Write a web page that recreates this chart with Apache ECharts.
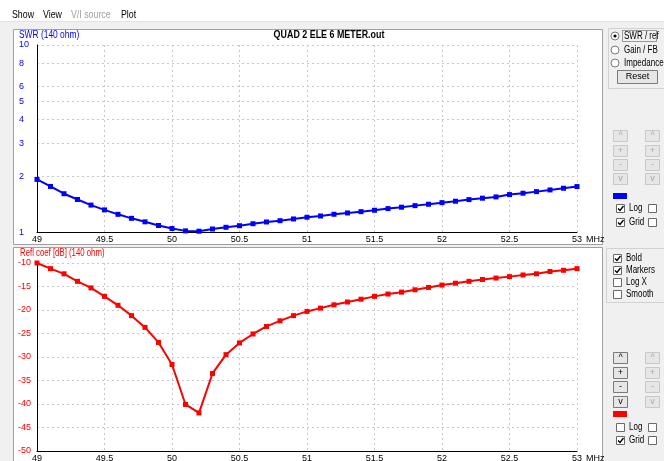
<!DOCTYPE html>
<html>
<head>
<meta charset="utf-8">
<title>QUAD 2 ELE 6 METER.out</title>
<script src="https://cdn.jsdelivr.net/npm/echarts@6/dist/echarts.min.js"></script>
<style>
  html, body { margin: 0; padding: 0; background: #f0f0f0; }
  #c { width: 664px; height: 461px; }
</style>
</head>
<body>
<div id="c"></div>
<script>
// Frequency sweep (MHz)
const freqMHz = [
  49.0, 49.1, 49.2, 49.3, 49.4, 49.5, 49.6, 49.7, 49.8, 49.9,
  50.0, 50.1, 50.2, 50.3, 50.4, 50.5, 50.6, 50.7, 50.8, 50.9,
  51.0, 51.1, 51.2, 51.3, 51.4, 51.5, 51.6, 51.7, 51.8, 51.9,
  52.0, 52.1, 52.2, 52.3, 52.4, 52.5, 52.6, 52.7, 52.8, 52.9,
  53.0
];

// SWR referenced to 140 ohm
const swr = [
  1.92, 1.76, 1.61, 1.50, 1.40, 1.32, 1.25, 1.19, 1.14, 1.09,
  1.05, 1.020, 1.016, 1.044, 1.066, 1.087, 1.114, 1.138, 1.156, 1.181,
  1.206, 1.225, 1.251, 1.271, 1.292, 1.314, 1.341, 1.364, 1.391, 1.415,
  1.443, 1.468, 1.498, 1.524, 1.548, 1.593, 1.620, 1.652, 1.687, 1.722,
  1.758
];

// Reflection coefficient, dB (140 ohm)
const reflDb = [
  -10.0, -11.2, -12.3, -13.9, -15.3, -17.1, -19.0, -21.2, -23.7, -26.9,
  -31.6, -40.1, -41.9, -33.5, -29.5, -27.0, -25.1, -23.5, -22.3, -21.2,
  -20.3, -19.6, -18.9, -18.3, -17.7, -17.1, -16.6, -16.2, -15.7, -15.2,
  -14.7, -14.3, -13.9, -13.5, -13.2, -12.9, -12.55, -12.3, -11.8, -11.55,
  -11.2
];

// Axis ticks
const freqTicks = [49, 49.5, 50, 50.5, 51, 51.5, 52, 52.5, 53];
const swrTicks = [1, 2, 3, 4, 5, 6, 8, 10];
const reflTicks = [-50, -45, -40, -35, -30, -25, -20, -15, -10];

const FONT = "'Liberation Sans', Arial, sans-serif";
const SQUEEZE = 0.8;   // the dialog font is narrow; compress text horizontally
const GRID_LINE = { show: true, lineStyle: { color: '#c8c8c8', type: [2, 3], width: 1 } };

function xAxisFor(gridIndex) {
  return {
    type: 'value', gridIndex,
    min: freqTicks[0], max: freqTicks[freqTicks.length - 1], interval: 0.5,
    axisLine: { show: true, onZero: false, lineStyle: { color: '#000', width: 1 } },
    axisTick: { show: false },
    axisLabel: { color: '#000', fontFamily: FONT, fontSize: 9, margin: 3, showMinLabel: true, showMaxLabel: true },
    splitLine: GRID_LINE,
    name: 'MHz', nameLocation: 'end', nameGap: 7,
    nameTextStyle: { color: '#000', fontFamily: FONT, fontSize: 9, align: 'left', verticalAlign: 'top', padding: [3, 0, 0, 0] }
  };
}

// Plain text in the dialog font
function label(x, y, text, fill, opts) {
  opts = opts || {};
  return {
    type: 'text', x, y, scaleX: opts.scaleX || SQUEEZE,
    style: {
      text, fill,
      font: (opts.bold ? 'bold ' : '') + (opts.size || 10) + 'px ' + FONT,
      align: opts.align || 'left', verticalAlign: 'middle'
    }
  };
}

// Windows-style control helpers for the side panel
function button(x, y, w, h, text, enabled) {
  return [
    { type: 'rect', shape: { x, y, width: w, height: h }, style: { fill: '#e6e6e6', stroke: enabled ? '#7a7a7a' : '#c8c8c8', lineWidth: 1 } },
    label(x + w / 2, y + h / 2, text, enabled ? '#000' : '#a8a8a8', { align: 'center', size: 9, scaleX: 1 })
  ];
}
function checkbox(x, y, checked, text) {
  const els = [
    { type: 'rect', shape: { x: x + 0.5, y: y + 0.5, width: 8, height: 8 }, style: { fill: '#fff', stroke: '#6a6a6a', lineWidth: 1 } }
  ];
  if (checked) {
    els.push({ type: 'polyline', shape: { points: [[x + 2, y + 4.5], [x + 4, y + 6.5], [x + 7.5, y + 2]] }, style: { stroke: '#000', lineWidth: 1.4, fill: null } });
  }
  if (text) els.push(label(x + 13, y + 4.5, text, '#000'));
  return els;
}
function radio(x, y, selected, text) {
  const els = [
    { type: 'circle', shape: { cx: x, cy: y, r: 4 }, style: { fill: '#fff', stroke: '#7a7a7a', lineWidth: 1 } }
  ];
  if (selected) els.push({ type: 'circle', shape: { cx: x, cy: y, r: 1.6 }, style: { fill: '#000' } });
  els.push(label(x + 9, y, text, '#000'));
  return els;
}

const chrome = [].concat(
  // menu bar
  [{ type: 'rect', shape: { x: 0, y: 0, width: 664, height: 21 }, style: { fill: '#ffffff' } },
   { type: 'line', shape: { x1: 0, y1: 21.5, x2: 664, y2: 21.5 }, style: { stroke: '#e3e3e3' } },
   label(12, 15, 'Show', '#000', { size: 11 }),
   label(43, 15, 'View', '#000', { size: 11 }),
   label(71, 15, 'V/I source', '#a0a0a0', { size: 11 }),
   label(121, 15, 'Plot', '#000', { size: 11 })],
  // plot panels
  [{ type: 'rect', shape: { x: 13.5, y: 29.5, width: 589, height: 215 }, style: { fill: '#fff', stroke: '#a0a0a0', lineWidth: 1 } },
   { type: 'rect', shape: { x: 13.5, y: 247.5, width: 589, height: 220 }, style: { fill: '#fff', stroke: '#a0a0a0', lineWidth: 1 } }],
  // SWR / Gain / Impedance group
  [{ type: 'rect', shape: { x: 608.5, y: 28.5, width: 70, height: 60 }, style: { fill: null, stroke: '#d2d2d2' } }],
  radio(615, 36, true, 'SWR / ref'),
  [{ type: 'rect', shape: { x: 622.5, y: 30.5, width: 34, height: 11 }, style: { fill: null, stroke: '#444', lineDash: [1, 1] } }],
  radio(615, 50, false, 'Gain / FB'),
  radio(615, 63, false, 'Impedance'),
  button(617.5, 70.5, 40, 13, 'Reset', true),
  // SWR scale controls
  button(613.5, 130.5, 14, 11, '^', false), button(645.5, 130.5, 14, 11, '^', false),
  button(613.5, 145.5, 14, 11, '+', false), button(645.5, 145.5, 14, 11, '+', false),
  button(613.5, 159.5, 14, 11, '-', false), button(645.5, 159.5, 14, 11, '-', false),
  button(613.5, 173.5, 14, 11, 'v', false), button(645.5, 173.5, 14, 11, 'v', false),
  [{ type: 'rect', shape: { x: 613, y: 193, width: 14, height: 6 }, style: { fill: '#0000ff' } }],
  checkbox(616, 204, true, 'Log'), checkbox(648, 204, false),
  checkbox(616, 218, true, 'Grid'), checkbox(648, 218, false),
  // drawing options group
  [{ type: 'rect', shape: { x: 606.5, y: 248.5, width: 70, height: 54 }, style: { fill: null, stroke: '#d2d2d2' } }],
  checkbox(613, 254, true, 'Bold'),
  checkbox(613, 266, true, 'Markers'),
  checkbox(613, 278, false, 'Log X'),
  checkbox(613, 290, false, 'Smooth'),
  // reflection scale controls
  button(613.5, 352.5, 14, 11, '^', true), button(645.5, 352.5, 14, 11, '^', false),
  button(613.5, 367.5, 14, 11, '+', true), button(645.5, 367.5, 14, 11, '+', false),
  button(613.5, 381.5, 14, 11, '-', true), button(645.5, 381.5, 14, 11, '-', false),
  button(613.5, 396.5, 14, 11, 'v', true), button(645.5, 396.5, 14, 11, 'v', false),
  [{ type: 'rect', shape: { x: 613, y: 411, width: 14, height: 6 }, style: { fill: '#ff0000' } }],
  checkbox(616, 423, false, 'Log'), checkbox(648, 423, false),
  checkbox(616, 436, true, 'Grid'), checkbox(648, 436, false),
  // plot captions
  [label(19, 35, 'SWR (140 ohm)', '#0000ff', { scaleX: 0.84 }),
   label(329, 35, 'QUAD 2 ELE 6 METER.out', '#000', { bold: true, size: 10, scaleX: 0.89, align: 'center' }),
   label(20, 253, 'Refl coef [dB] (140 ohm)', '#ff0000', { scaleX: 0.78 })]
);

chrome.forEach(function (el) { el.z = -5; el.silent = true; });

const chart = echarts.init(document.getElementById('c'), null, { renderer: 'canvas' });
chart.setOption({
  animation: false,
  backgroundColor: 'transparent',
  graphic: { elements: chrome },
  grid: [
    { left: 37, top: 45, width: 540, height: 187.5, outerBoundsMode: 'none' },
    { left: 37, top: 263, width: 540, height: 188, outerBoundsMode: 'none' }
  ],
  xAxis: [xAxisFor(0), xAxisFor(1)],
  yAxis: [
    {
      type: 'log', logBase: 10, gridIndex: 0,
      min: swrTicks[0], max: swrTicks[swrTicks.length - 1],
      axisLine: { show: true, lineStyle: { color: '#000', width: 1 } },
      axisTick: { show: false, customValues: swrTicks },
      axisLabel: { customValues: swrTicks, color: '#0000ff', fontFamily: FONT, fontSize: 9, align: 'left', margin: 18 },
      splitLine: GRID_LINE
    },
    {
      type: 'value', gridIndex: 1,
      min: reflTicks[0], max: reflTicks[reflTicks.length - 1], interval: 5,
      axisLine: { show: true, onZero: false, lineStyle: { color: '#000', width: 1 } },
      axisTick: { show: false },
      axisLabel: { color: '#ff0000', fontFamily: FONT, fontSize: 9, align: 'left', margin: 19 },
      splitLine: GRID_LINE
    }
  ],
  series: [
    {
      name: 'SWR', type: 'line', xAxisIndex: 0, yAxisIndex: 0,
      data: freqMHz.map(function (f, i) { return [f, swr[i]]; }),
      symbol: 'rect', symbolSize: 5, showAllSymbol: true,
      lineStyle: { color: '#0000ff', width: 2 },
      itemStyle: { color: '#0000ff' }
    },
    {
      name: 'Refl coef', type: 'line', xAxisIndex: 1, yAxisIndex: 1,
      data: freqMHz.map(function (f, i) { return [f, reflDb[i]]; }),
      symbol: 'rect', symbolSize: 5, showAllSymbol: true,
      lineStyle: { color: '#ff0000', width: 2 },
      itemStyle: { color: '#ff0000' }
    }
  ]
});
</script>
</body>
</html>
